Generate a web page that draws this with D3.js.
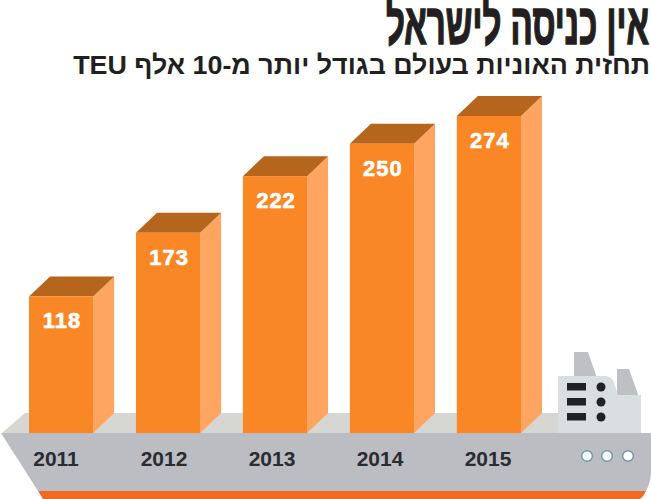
<!DOCTYPE html>
<html>
<head>
<meta charset="utf-8">
<script src="https://cdn.jsdelivr.net/npm/d3@7"></script>
<style>
  html, body { margin: 0; padding: 0; background: #fff; }
  svg { display: block; }
  text { font-family: "Liberation Sans", Arial, sans-serif; font-weight: bold; }
</style>
</head>
<body>
<svg id="viz"></svg>
<script>
const years = ["2011", "2012", "2013", "2014", "2015"];
const ships = [118, 173, 222, 250, 274];
const titleText = "אין כניסה לישראל";
const subtitleText = "תחזית האוניות בעולם בגודל יותר מ-10 אלף TEU";

const width = 651;
const height = 499;
const svg = d3.select("#viz").attr("width", width).attr("height", height);

const x = d3.scaleBand().domain(years).range([29, 521]).paddingInner(0.4);
const y = d3.scaleLinear().domain([0, 274]).range([433, 116]);
// year labels on the hull are spaced a little wider than the bars
const xLabel = d3.scalePoint().domain(years).range([56, 488]);
const depthX = 21;
const depthY = 20;

const poly = pts => pts.map(p => p.join(",")).join(" ");

// fit a line of text to a known width by stretching it around the right edge
function fitted(text, right, baseline, size, targetWidth, fill, weight) {
  const g = svg.append("g");
  const t = g.append("text")
    .attr("font-size", size)
    .attr("fill", fill)
    .attr("stroke", fill)
    .attr("stroke-width", weight)
    .attr("direction", "rtl")
    .attr("text-anchor", "start")
    .text(text);
  const w = t.node().getComputedTextLength();
  g.attr("transform", `translate(${right},${baseline}) scale(${targetWidth / w},1)`);
}

// ship
svg.append("polygon").attr("points", poly([[2, 433], [25, 413], [562, 413], [562, 433]])).attr("fill", "#d6d7d3");

svg.append("polygon").attr("points", poly([[574, 352], [588, 352], [597, 378], [574, 378]])).attr("fill", "#bfc0c3");
svg.append("polygon").attr("points", poly([[617, 369], [629, 369], [639, 397], [617, 397]])).attr("fill", "#bfc0c3");
svg.append("path")
  .attr("d", "M558,376 H605 Q612,376 614,383 L618,395 H641 V433 H558 Z")
  .attr("fill", "#d9dfe0");

[383, 398, 413].forEach(top => {
  svg.append("rect").attr("x", 567).attr("y", top).attr("width", 19).attr("height", 7.5).attr("fill", "#1f2226");
  svg.append("circle").attr("cx", 601).attr("cy", top + 4).attr("r", 4.5).attr("fill", "#1f2226");
});

svg.append("path")
  .attr("d", "M38,491 H646 Q644,496 640,499 H43 Z")
  .attr("fill", "#f26a21");
svg.append("path")
  .attr("d", "M1,433 H651 V474 Q650,484 646,491 H38 Z")
  .attr("fill", "#bcbdc2");

[587, 607, 628].forEach(cx => {
  svg.append("circle").attr("cx", cx).attr("cy", 456).attr("r", 5.3)
    .attr("fill", "#fff").attr("stroke", "#6f9a9e").attr("stroke-width", 1.4);
});

// bars
const bars = svg.selectAll("g.bar")
  .data(years.map((year, i) => ({ year, value: ships[i] })))
  .enter()
  .append("g")
  .attr("class", "bar");

bars.append("polygon")
  .attr("points", d => {
    const x1 = x(d.year) + x.bandwidth();
    return poly([[x1, y(0)], [x1 + depthX, y(0) - depthY], [x1 + depthX, y(d.value) - depthY], [x1, y(d.value)]]);
  })
  .attr("fill", "#fea561");

bars.append("polygon")
  .attr("points", d => {
    const x0 = x(d.year);
    const x1 = x0 + x.bandwidth();
    const top = y(d.value);
    return poly([[x0, top], [x0 + depthX, top - depthY], [x1 + depthX, top - depthY], [x1, top]]);
  })
  .attr("fill", "#b5661c");

bars.append("rect")
  .attr("x", d => x(d.year))
  .attr("y", d => y(d.value))
  .attr("width", x.bandwidth())
  .attr("height", d => y(0) - y(d.value))
  .attr("fill", "#f98726");

bars.append("text")
  .attr("x", d => x(d.year) + x.bandwidth() / 2 + 1)
  .attr("y", d => y(d.value) + 32)
  .attr("text-anchor", "middle")
  .attr("font-size", 22)
  .attr("letter-spacing", 1)
  .attr("fill", "#fff")
  .attr("stroke", "#fff")
  .attr("stroke-width", 0.6)
  .text(d => d.value);

bars.append("text")
  .attr("x", d => xLabel(d.year))
  .attr("y", 466)
  .attr("text-anchor", "middle")
  .attr("font-size", 21)
  .attr("fill", "#2a2c31")
  .text(d => d.year);

// titles
fitted(titleText, 649, 44, 58, 263, "#231f20", 1.6);
fitted(subtitleText, 650, 74, 26, 577, "#231f20", 0);
</script>
</body>
</html>
